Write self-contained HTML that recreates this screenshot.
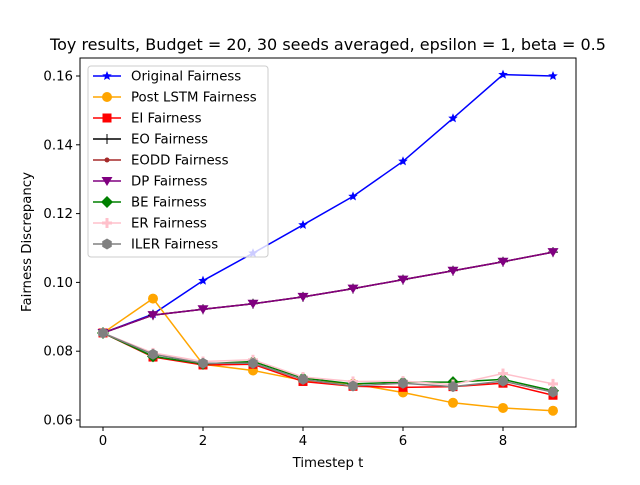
<!DOCTYPE html>
<html><head><meta charset="utf-8"><style>
body{margin:0;background:#fff}
svg{font-family:"DejaVu Sans","Liberation Sans",sans-serif}
</style></head><body>
<svg id="chart" width="640" height="480"></svg>
<script>
const timesteps=[0,1,2,3,4,5,6,7,8,9];
const yTicks=[0.06,0.08,0.10,0.12,0.14,0.16];
const xTicks=[0,2,4,6,8];
const seriesNames=["Original Fairness","Post LSTM Fairness","EI Fairness","EO Fairness","EODD Fairness","DP Fairness","BE Fairness","ER Fairness","ILER Fairness"];
const original=[0.0853,0.0908,0.1005,0.1085,0.1167,0.1250,0.1352,0.1477,0.1604,0.1600];
const postLstm=[0.0853,0.0953,0.0762,0.0744,0.0715,0.0705,0.0680,0.0650,0.0635,0.0627];
const ei=[0.0853,0.0783,0.0760,0.0762,0.0712,0.0698,0.0695,0.0697,0.0707,0.0672];
const eo=[0.0853,0.0905,0.0922,0.0938,0.0958,0.0982,0.1008,0.1034,0.1060,0.1088];
const eodd=[0.0853,0.0905,0.0922,0.0938,0.0958,0.0982,0.1008,0.1034,0.1060,0.1088];
const dp=[0.0853,0.0905,0.0922,0.0938,0.0958,0.0982,0.1008,0.1034,0.1060,0.1088];
const be=[0.0853,0.0785,0.0763,0.0770,0.0722,0.0705,0.0710,0.0710,0.0718,0.0685];
const er=[0.0853,0.0795,0.0770,0.0775,0.0725,0.0712,0.0713,0.0703,0.0735,0.0705];
const iler=[0.0853,0.0791,0.0765,0.0765,0.0718,0.0699,0.0707,0.0697,0.0713,0.0681];

const svg=document.getElementById('chart');
const NS='http://www.w3.org/2000/svg';
const L=80,R=576,T=58,B=427;
const xs=v=>103+v*50;
const ys=v=>420-(v-0.06)/0.02*68.8;
function mk(tag,attrs,parent){const e=document.createElementNS(NS,tag);for(const k in attrs)e.setAttribute(k,attrs[k]);(parent||svg).appendChild(e);return e;}

const title=mk('text',{x:328,y:50,'font-size':16,'text-anchor':'middle',fill:'#000'});
title.textContent='Toy results, Budget = 20, 30 seeds averaged, epsilon = 1, beta = 0.5';



const frame=mk('rect',{x:L,y:T,width:R-L,height:B-T,fill:'none',stroke:'#000','stroke-width':1});



yTicks.forEach(v=>{
  const g=mk('g',{});
  
  
  mk('line',{x1:L-4,x2:L,y1:ys(v),y2:ys(v),stroke:'#000'},g);
  const t=mk('text',{x:L-7,y:ys(v)+4.5,'font-size':13.3,'text-anchor':'end'},g);
  t.textContent=v.toFixed(2);
});
xTicks.forEach(v=>{
  const g=mk('g',{});
  
  
  mk('line',{x1:xs(v),x2:xs(v),y1:B,y2:B+4,stroke:'#000'},g);
  const t=mk('text',{x:xs(v),y:B+18,'font-size':13.3,'text-anchor':'middle'},g);
  t.textContent=v;
});
const xl=mk('text',{x:328,y:467,'font-size':13.3,'text-anchor':'middle'});
xl.textContent='Timestep t';


const yl=mk('text',{x:0,y:0,'font-size':13.3,'text-anchor':'middle',transform:'translate(31,242) rotate(-90)'});
yl.textContent='Fairness Discrepancy';



const colors=['#0000ff','#ffa500','#ff0000','#000000','#a52a2a','#800080','#008000','#ffc0cb','#808080'];
const markers=['star','circle','square','plus','dot','tri','diamond','plus','hex'];
const data=[original,postLstm,ei,eo,eodd,dp,be,er,iler];

function marker(type,x,y,c,g){
  if(type==='circle')mk('circle',{cx:x,cy:y,r:5,fill:c},g);
  else if(type==='square')mk('rect',{x:x-4.5,y:y-4.5,width:9,height:9,fill:c},g);
  else if(type==='dot')mk('circle',{cx:x,cy:y,r:2.5,fill:c},g);
  else if(type==='tri')mk('polygon',{points:`${x-5.5},${y-4} ${x+5.5},${y-4} ${x},${y+5}`,fill:c},g);
  else if(type==='diamond')mk('polygon',{points:`${x},${y-6} ${x+6},${y} ${x},${y+6} ${x-6},${y}`,fill:c},g);
  else if(type==='plus'){
    const w=c==='#000000'?1:3;
    mk('line',{x1:x-5,x2:x+5,y1:y,y2:y,stroke:c,'stroke-width':w},g);
    mk('line',{x1:x,x2:x,y1:y-5,y2:y+5,stroke:c,'stroke-width':w},g);}
  else if(type==='hex'){let p=[];for(let i=0;i<6;i++){const a=Math.PI/6+i*Math.PI/3;p.push((x+5.5*Math.cos(a))+','+(y+5.5*Math.sin(a)));}mk('polygon',{points:p.join(' '),fill:c},g);}
  else if(type==='star'){let p=[];for(let i=0;i<10;i++){const r=i%2?2.2:5;const a=-Math.PI/2+i*Math.PI/5;p.push((x+r*Math.cos(a))+','+(y+r*Math.sin(a)));}mk('polygon',{points:p.join(' '),fill:c},g);}
}

data.forEach((vals,si)=>{
  const g=mk('g',{});
  
  
  mk('polyline',{points:vals.map((v,i)=>xs(timesteps[i])+','+ys(v)).join(' '),fill:'none',stroke:colors[si],'stroke-width':1.5},g);
  vals.forEach((v,i)=>marker(markers[si],xs(timesteps[i]),ys(v),colors[si],g));
});

const lg=mk('g',{});


mk('rect',{x:88,y:66,width:180,height:191,rx:3,fill:'#fff','fill-opacity':0.8,stroke:'#ccc'},lg);
seriesNames.forEach((n,i)=>{
  const y=76+i*21;
  const e=mk('g',{},lg);
  
  
  mk('line',{x1:93,x2:121,y1:y,y2:y,stroke:colors[i],'stroke-width':1.5},e);
  marker(markers[i],107,y,colors[i],e);
  const t=mk('text',{x:131,y:y+4.5,'font-size':13.3},e);
  t.textContent=n;
});
</script>
</body></html>
